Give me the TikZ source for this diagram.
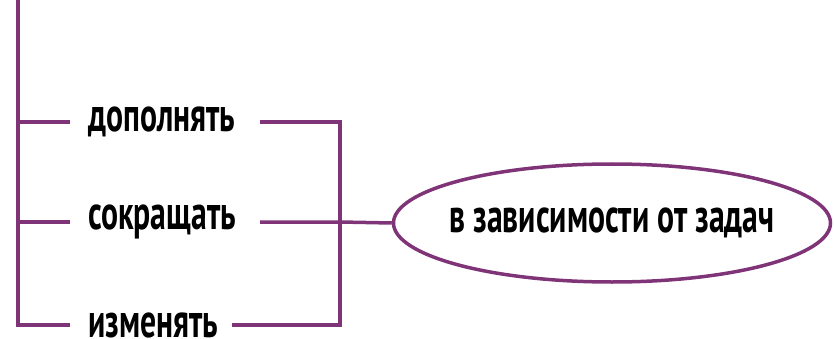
\documentclass[tikz,border=0pt]{standalone}
\usepackage{fontspec}
\setmainfont[FakeStretch=0.66]{PT Sans}
\usetikzlibrary{shapes.geometric}
\definecolor{plum}{RGB}{128,52,120}
\begin{document}
\begin{tikzpicture}[x=1pt,y=-1pt,
  conn/.style={draw=plum,line width=3.5pt},
  word/.style={font=\fontsize{48}{52}\selectfont\bfseries,inner sep=0pt,anchor=west},
  oval/.style={ellipse,draw=plum,line width=3.5pt,minimum width=437pt,minimum height=118pt,inner sep=0pt}]
\useasboundingbox (0,0) rectangle (834,339);
\node[word] (w1) at (88,122) {дополнять};
\node[word] (w2) at (88,222) {сокращать};
\node[word] (w3) at (88,325) {изменять};
\node[oval] (e) at (612,223) {};
\node[font=\fontsize{48}{52}\selectfont\bfseries,inner sep=0pt] (et) at (e.center) {в зависимости от задач};
\coordinate (top) at (18,0);
\coordinate (l1) at (18,122);
\coordinate (l2) at (18,222);
\coordinate (l3) at (18,325);
\coordinate (t1) at (70,122);
\coordinate (t2) at (70,222);
\coordinate (t3) at (70,325);
\coordinate (s1) at (260,122);
\coordinate (s2) at (260,222);
\coordinate (s3) at (232,325);
\coordinate (b1) at (340,122);
\coordinate (b2) at (340,222);
\coordinate (b3) at (340,325);
\draw[conn] (top) -- (l3) -- (t3);
\draw[conn] (l1) -- (t1);
\draw[conn] (l2) -- (t2);
\draw[conn] (s1) -- (b1) -- (b3) -- (s3);
\draw[conn] (s2) -- (b2) -- (e.west);
\end{tikzpicture}
\end{document}
